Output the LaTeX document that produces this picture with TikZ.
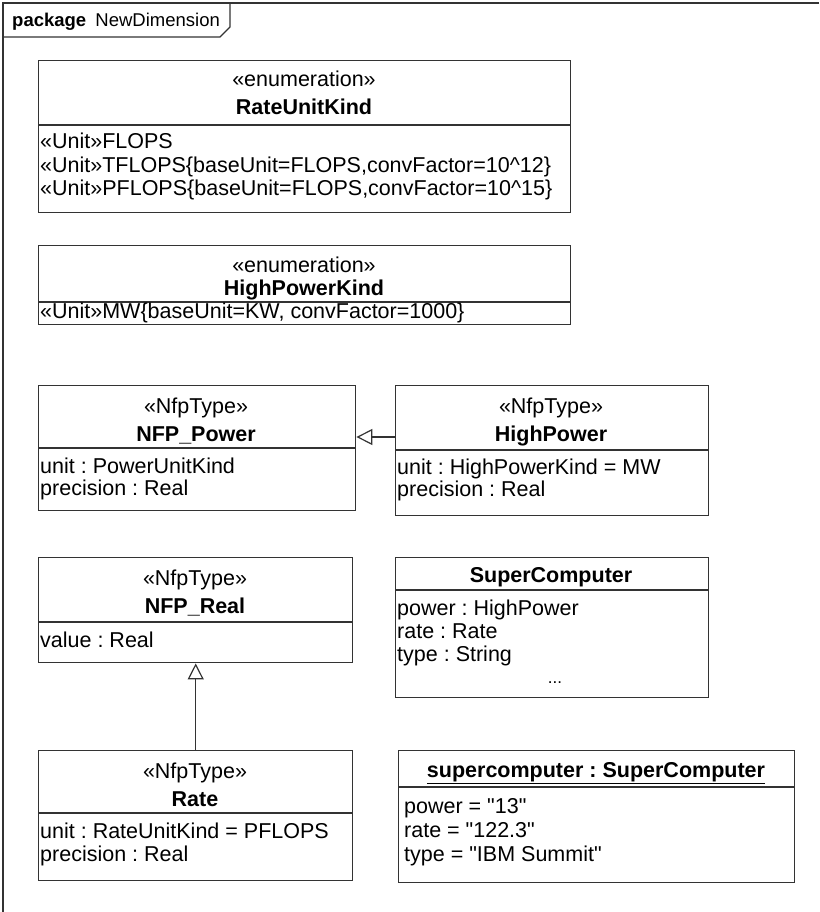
\documentclass[tikz,border=0pt]{standalone}
\usepackage{fontspec}
\setmainfont{Liberation Sans}
\usetikzlibrary{arrows.meta, positioning, calc}
\definecolor{linecol}{HTML}{333333}
\definecolor{textcol}{HTML}{000000}
\frenchspacing

\begin{document}
\begin{tikzpicture}[x=1pt, y=-1pt,
    every node/.style={font=\fontsize{21.5}{24}\selectfont, text=textcol, inner sep=0pt},
    box/.style={draw=linecol, line width=1.4pt, anchor=north west, inner sep=0pt},
    rule/.style={draw=linecol, line width=1.4pt},
    stereo/.style={anchor=base},
    cname/.style={anchor=base, font=\fontsize{21.5}{24}\selectfont\bfseries},
    attr/.style={anchor=base west},
    gen/.style={-{Triangle[open, length=16pt, width=16pt]}, draw=linecol, line width=1.2pt},
]
\useasboundingbox (0,0) rectangle (819,912);

% ---------------------------------------------------------- package frame
\draw[rule] (819,3) -- (3,3) -- (3,912);
\draw[rule] (3,37) -- (220,37) -- (230,27) -- (230,3);
\node[attr, font=\fontsize{18.5}{22}\selectfont] (pkg) at (12,27)
    {\textbf{package}\enspace NewDimension};

% ---------------------------------------------------------- RateUnitKind
\begin{scope}[shift={(38,60)}]
  \node[box, minimum width=532pt, minimum height=152pt] (rateKind) at (0,0) {};
  \node[stereo] (rateKindSt)   at (266,27) {«enumeration»};
  \node[cname]  (rateKindName) at (266,55) {RateUnitKind};
  \draw[rule] (0,65) -- (532,65);
  \foreach \a [count=\i from 0] in
      {{«Unit»FLOPS},
       {«Unit»TFLOPS\{baseUnit=FLOPS,convFactor=10\textasciicircum12\}},
       {«Unit»PFLOPS\{baseUnit=FLOPS,convFactor=10\textasciicircum15\}}} {
    \node[attr] (rateKindA\i) at (2,89+23*\i) {\a};
  }
\end{scope}

% ---------------------------------------------------------- HighPowerKind
\begin{scope}[shift={(38,245)}]
  \node[box, minimum width=532pt, minimum height=79pt] (powerKind) at (0,0) {};
  \node[stereo] (powerKindSt)   at (266,27) {«enumeration»};
  \node[cname]  (powerKindName) at (266,50) {HighPowerKind};
  \draw[rule] (0,57) -- (532,57);
  \node[attr] (powerKindA0) at (2,73) {«Unit»MW\{baseUnit=KW, convFactor=1000\}};
\end{scope}

% ---------------------------------------------------------- NFP_Power
\begin{scope}[shift={(38,385)}]
  \node[box, minimum width=317pt, minimum height=125pt] (nfpPower) at (0,0) {};
  \node[stereo] (nfpPowerSt)   at (158,28) {«NfpType»};
  \node[cname]  (nfpPowerName) at (158,56) {NFP\_Power};
  \draw[rule] (0,63) -- (317,63);
  \foreach \a [count=\i from 0] in {unit : PowerUnitKind, precision : Real} {
    \node[attr] (nfpPowerA\i) at (2,88+22*\i) {\a};
  }
\end{scope}

% ---------------------------------------------------------- HighPower
\begin{scope}[shift={(395,385)}]
  \node[box, minimum width=313pt, minimum height=130pt] (highPower) at (0,0) {};
  \node[stereo] (highPowerSt)   at (156,28) {«NfpType»};
  \node[cname]  (highPowerName) at (156,56) {HighPower};
  \draw[rule] (0,65) -- (313,65);
  \foreach \a [count=\i from 0] in {unit : HighPowerKind = MW, precision : Real} {
    \node[attr] (highPowerA\i) at (2,89+22*\i) {\a};
  }
\end{scope}

% ---------------------------------------------------------- NFP_Real
\begin{scope}[shift={(38,557)}]
  \node[box, minimum width=314pt, minimum height=105pt] (nfpReal) at (0,0) {};
  \node[stereo] (nfpRealSt)   at (157,28) {«NfpType»};
  \node[cname]  (nfpRealName) at (157,56) {NFP\_Real};
  \draw[rule] (0,65) -- (314,65);
  \node[attr] (nfpRealA0) at (2,90) {value : Real};
\end{scope}

% ---------------------------------------------------------- SuperComputer
\begin{scope}[shift={(395,557)}]
  \node[box, minimum width=313pt, minimum height=140pt] (superComp) at (0,0) {};
  \node[cname] (superCompName) at (156,25) {SuperComputer};
  \draw[rule] (0,33) -- (313,33);
  \foreach \a [count=\i from 0] in {power : HighPower, rate : Rate, type : String} {
    \node[attr] (superCompA\i) at (2,58+23*\i) {\a};
  }
  \node[stereo, font=\fontsize{17}{20}\selectfont] (superCompMore) at (160,126) {...};
\end{scope}

% ---------------------------------------------------------- Rate
\begin{scope}[shift={(38,750)}]
  \node[box, minimum width=314pt, minimum height=130pt] (rate) at (0,0) {};
  \node[stereo] (rateSt)   at (157,28) {«NfpType»};
  \node[cname]  (rateName) at (157,56) {Rate};
  \draw[rule] (0,63) -- (314,63);
  \foreach \a [count=\i from 0] in {unit : RateUnitKind = PFLOPS, precision : Real} {
    \node[attr] (rateA\i) at (2,88+23*\i) {\a};
  }
\end{scope}

% ---------------------------------------------------------- supercomputer instance
\begin{scope}[shift={(398,750)}]
  \node[box, minimum width=396pt, minimum height=132pt] (superInst) at (0,0) {};
  \node[cname] (superInstName) at (198,27)
      {\underline{supercomputer : SuperComputer}};
  \draw[rule] (0,37) -- (396,37);
  \foreach \a [count=\i from 0] in
      {power = \textquotedbl 13\textquotedbl,
       rate = \textquotedbl 122.3\textquotedbl,
       type = \textquotedbl IBM Summit\textquotedbl} {
    \node[attr] (superInstA\i) at (6,63+24*\i) {\a};
  }
\end{scope}

% ---------------------------------------------------------- generalizations
\draw[gen] ($(highPower.north west)+(0,52)$) -- ($(nfpPower.north east)+(0,52)$);
\draw[gen] (rate.north) -- (nfpReal.south);

\end{tikzpicture}
\end{document}
